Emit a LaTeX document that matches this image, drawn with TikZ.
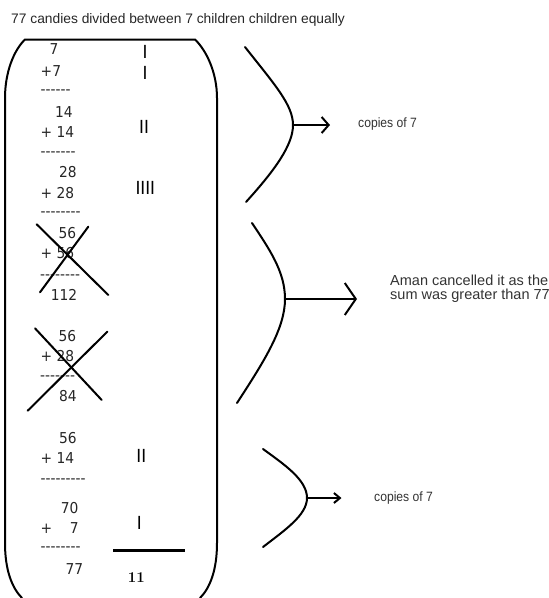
\documentclass[tikz,border=0pt]{standalone}
\usepackage{fontspec}
\usetikzlibrary{arrows.meta}
\newfontfamily\arialf{Liberation Sans}
\newfontfamily\arialcf[FakeStretch=0.9]{Liberation Sans}
\newfontfamily\dejavuf[FakeStretch=0.92]{DejaVu Sans}
\tikzset{
  sumtxt/.style={inner sep=0pt, anchor=base west, text=black!85, font=\dejavuf\fontsize{15}{17}\selectfont},
  tally/.style={inner sep=0pt, anchor=base, text=black, font=\dejavuf\fontsize{18}{20}\selectfont},
  notetxt/.style={inner sep=0pt, anchor=base west, text=black!80, font=\arialcf\fontsize{13.5}{15}\selectfont},
  boxline/.style={line width=2pt, line cap=round, line join=round},
  bracketline/.style={line width=2pt, line cap=round},
  crossline/.style={line width=2pt, line cap=round},
}
\begin{document}
\begin{tikzpicture}[x=1pt,y=-1pt]
\useasboundingbox (0,0) rectangle (549,598);
% title
\node[inner sep=0pt, anchor=base west, text=black!85, font=\arialf\fontsize{13.8}{16}\selectfont] (title) at (11,23.3) {77 candies divided between 7 children children equally};
% rounded bracket box
\draw[boxline] (22,598) .. controls (12,588) and (5,570) .. (5,543) -- (5,98)
  .. controls (5,72) and (14,50) .. (25,39.5) -- (195,39.5)
  .. controls (206,50) and (217,72) .. (217,98) -- (217,543)
  .. controls (217,570) and (210,588) .. (200,598);
% sums
\node[sumtxt] (a1) at (49.5,54.5) {7};
\node[sumtxt] (a2) at (40.5,76) {+7};
\node[sumtxt] (a3) at (40.5,94.3) {------};
\node[sumtxt] (b1) at (55,117) {14};
\node[sumtxt] (b2) at (40.5,137) {+ 14};
\node[sumtxt] (b3) at (40.5,156.3) {-------};
\node[sumtxt] (c1) at (59,177.3) {28};
\node[sumtxt] (c2) at (40.5,198) {+ 28};
\node[sumtxt] (c3) at (40.5,216.3) {--------};
\node[sumtxt] (d1) at (58.3,238.3) {56};
\node[sumtxt] (d2) at (40.5,258.3) {+ 56};
\node[sumtxt] (d3) at (40,279) {--------};
\node[sumtxt] (d4) at (50.7,300) {112};
\node[sumtxt] (e1) at (58.3,341.7) {56};
\node[sumtxt] (e2) at (40.5,361.7) {+ 28};
\node[sumtxt] (e3) at (40,380.7) {-------};
\node[sumtxt] (e4) at (59,401.7) {84};
\node[sumtxt] (f1) at (59,443.3) {56};
\node[sumtxt] (f2) at (40.5,463.3) {+ 14};
\node[sumtxt] (f3) at (40.5,483.3) {---------};
\node[sumtxt] (g1) at (60.7,513.3) {70};
\node[sumtxt] (g2) at (40.5,533.3) {+\ \ \ \ 7};
\node[sumtxt] (g3) at (40.5,551.3) {--------};
\node[sumtxt] (g4) at (65.5,574) {77};
% tallies
\node[tally] (t1) at (145,58) {I};
\node[tally] (t2) at (145,79.7) {I};
\node[tally] (t3) at (144,133) {II};
\node[tally] (t4) at (145.3,194.7) {IIII};
\node[tally] (t5) at (141.3,462.7) {II};
\node[tally] (t6) at (139.3,529.3) {I};
\draw[line width=3pt] (113.3,550.7) -- (185,550.7);
\node[inner sep=0pt, anchor=base, font=\fontsize{15}{17}\selectfont\bfseries] (total) at (136.3,582.3) {11};
% crosses
\draw[crossline] (36.7,224.3) -- (108.3,295);
\draw[crossline] (40,292.3) -- (88.3,226.7);
\draw[crossline] (35,328.3) -- (101.7,400);
\draw[crossline] (27.7,410.7) -- (107.3,331.7);
% bracket 1
\coordinate (v1) at (293,125);
\coordinate (h1) at (330,125);
\draw[bracketline] (245,47) .. controls (275,85) and (293,105) .. (v1)
  .. controls (293,145) and (275,170) .. (246,202);
\draw[line width=2pt, -{Straight Barb[length=7pt,width=16pt]}] (v1) -- (h1);
\node[notetxt] (n1) at (358,127) {copies of 7};
% bracket 2
\coordinate (v2) at (285,299);
\coordinate (h2) at (357,299);
\draw[bracketline] (252,223) .. controls (270,250) and (285,272) .. (v2)
  .. controls (285,328) and (265,360) .. (237,403);
\draw[line width=2pt, -{Straight Barb[length=11pt,width=32pt]}] (v2) -- (h2);
\node[inner sep=0pt, anchor=base west, text=black!80, align=left, font=\arialf\fontsize{14.5}{14}\selectfont] (n2) at (390,299) {Aman cancelled it as the\\sum was greater than 77};
% bracket 3
\coordinate (v3) at (307,498);
\coordinate (h3) at (341.5,498);
\draw[bracketline] (263,449) .. controls (285,465) and (307,480) .. (v3)
  .. controls (307,515) and (285,530) .. (263,547);
\draw[line width=2pt, -{Straight Barb[length=6pt,width=10pt]}] (v3) -- (h3);
\node[notetxt] (n3) at (374,501) {copies of 7};
\end{tikzpicture}
\end{document}
